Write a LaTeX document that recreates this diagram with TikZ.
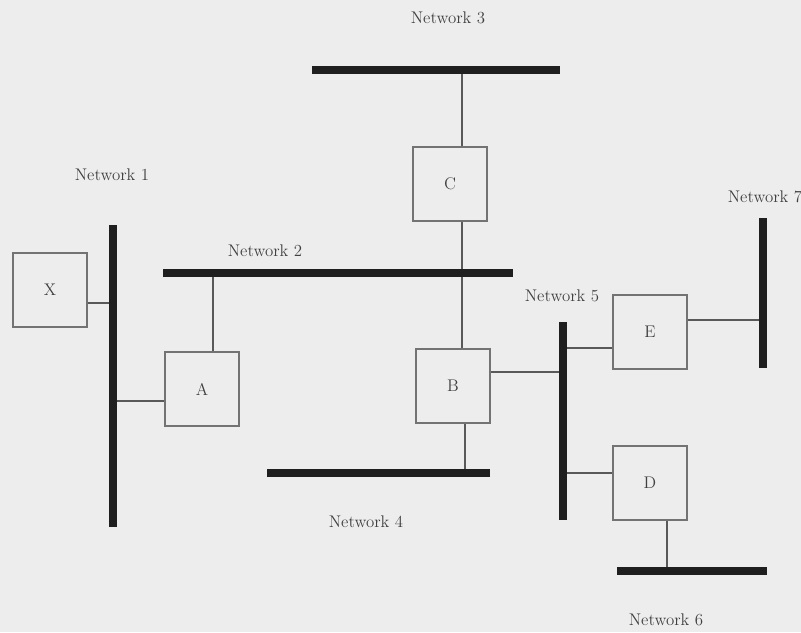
\documentclass[tikz,border=0pt]{standalone}
\usepackage{xcolor}
\usepackage{tikz}
\usetikzlibrary{positioning}
\definecolor{paper}{HTML}{EDEDED}
\definecolor{ink}{HTML}{404040}
\begin{document}
\begin{tikzpicture}[
        x=0.025cm, y=-0.025cm,
        host/.style={draw=black!55, line width=1.1pt, minimum width=1.85cm, minimum height=1.85cm, inner sep=0pt, font=\large, text=ink},
        bus/.style={line width=5pt, black!88},
        link/.style={line width=1.2pt, black!65},
        netlabel/.style={font=\large, text=ink}
    ]
    % Page
    \fill[paper] (0,0) rectangle (801,632);
    \useasboundingbox (0,0) rectangle (801,632);

    % Hosts
    \node[host] (X) at (50,290) {X};
    \node[host] (A) at (202,389) {A};
    \node[host] (C) at (450,184) {C};
    \node[host] (B) at (453,386) {B};
    \node[host] (E) at (650,332) {E};
    \node[host] (D) at (650,483) {D};

    % Network labels
    \node[netlabel] (net1) at (112,175) {Network 1};
    \node[netlabel] (net2) at (265,251) {Network 2};
    \node[netlabel] (net3) at (448,18) {Network 3};
    \node[netlabel] (net4) at (366,522) {Network 4};
    \node[netlabel] (net5) at (562,296) {Network 5};
    \node[netlabel] (net6) at (666,620) {Network 6};
    \node[netlabel] (net7) at (765,197) {Network 7};

    % Taps on the buses
    \coordinate (t1x) at (113,303);
    \coordinate (t1a) at (113,401);
    \coordinate (t2a) at (213,273);
    \coordinate (t3c) at (462,70);
    \coordinate (t4b) at (465,473);
    \coordinate (t5b) at (563,372);
    \coordinate (t5e) at (563,348);
    \coordinate (t5d) at (563,473);
    \coordinate (t6d) at (667,571);
    \coordinate (t7e) at (763,320);

    % Links
    \draw[link] (t1x) -- (t1x -| X.east);
    \draw[link] (t1a) -- (t1a -| A.west);
    \draw[link] (t2a) -- (t2a |- A.north);
    \draw[link] (t3c) -- (t3c |- C.north);
    \draw[link] (t3c |- C.south) -- (t3c |- B.north);
    \draw[link] (t4b) -- (t4b |- B.south);
    \draw[link] (t5b) -- (t5b -| B.east);
    \draw[link] (t5e) -- (t5e -| E.west);
    \draw[link] (t5d) -- (t5d -| D.west);
    \draw[link] (t6d) -- (t6d |- D.south);
    \draw[link] (t7e) -- (t7e -| E.east);

    % Buses
    \draw[bus] (113,225) -- (113,527);
    \draw[bus] (163,273) -- (513,273);
    \draw[bus] (312,70) -- (560,70);
    \draw[bus] (267,473) -- (490,473);
    \draw[bus] (563,322) -- (563,520);
    \draw[bus] (617,571) -- (767,571);
    \draw[bus] (763,218) -- (763,368);

\end{tikzpicture}
\end{document}
